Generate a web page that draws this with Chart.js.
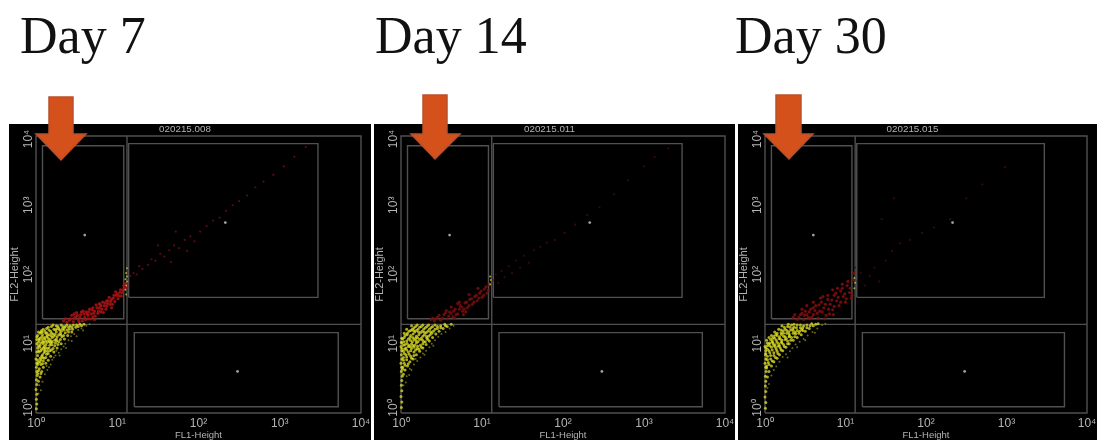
<!DOCTYPE html>
<html>
<head>
<meta charset="utf-8">
<script src="https://cdn.jsdelivr.net/npm/chart.js@4"></script>
<style>
  html, body { margin: 0; padding: 0; background: #fff; overflow: hidden; }
  body { width: 1097px; height: 440px; position: relative; }
  .day { position: absolute; top: 6px; font: 52px/60px "Liberation Serif", serif; color: #111; }
  canvas { position: absolute; top: 124px; background: #000; filter: blur(0.7px); }
  svg { position: absolute; left: 0; top: 0; filter: blur(0.3px); }
</style>
</head>
<body>
<div class="day" style="left:20px">Day 7</div>
<div class="day" style="left:375px">Day 14</div>
<div class="day" style="left:735px">Day 30</div>
<canvas id="day7" width="362" height="316" style="left:9px"></canvas>
<canvas id="day14" width="361" height="316" style="left:374px"></canvas>
<canvas id="day30" width="359" height="316" style="left:738px"></canvas>
<svg width="1097" height="440">
  <g fill="#d4511c" stroke="#b9502c" stroke-width="1.5">
    <polygon points="49,97 73,97 73,134 86,134 61,160 36,134 49,134"/>
    <polygon points="423,95 447,95 447,134 460,134 435,159 411,134 423,134"/>
    <polygon points="776,95 801,95 801,134 813,134 789,159 764,134 776,134"/>
  </g>
</svg>
<script>
// all positions are log10 of the channel height
const xTickLabels = ["10⁰", "10¹", "10²", "10³", "10⁴"];
const yTickLabels = ["10⁰", "10¹", "10²", "10³", "10⁴"];
const xTitle = "FL1-Height";
const yTitle = "FL2-Height";

const plotFrame = [[0, 0], [4, 0], [4, 4], [0, 4], [0, 0]];
const quadrantV = [[1.12, 0], [1.12, 4]];
const quadrantH = [[0, 1.28], [4, 1.28]];
const gateUpperLeft = [[0.08, 1.36], [1.08, 1.36], [1.08, 3.86], [0.08, 3.86], [0.08, 1.36]];
const gateUpperRight = [[1.14, 1.67], [3.47, 1.67], [3.47, 3.89], [1.14, 3.89], [1.14, 1.67]];
const gateLowerRight = [[1.21, 0.09], [3.72, 0.09], [3.72, 1.16], [1.21, 1.16], [1.21, 0.09]];
const gateCentres = [[0.6, 2.57], [2.33, 2.75], [2.48, 0.6]];

const day7Yellow = [[.005,.06],[.01,.13],[.005,.2],[.01,.27],[0,.34],[.01,.41],[.005,.48],[.015,.54],[.01,.6],[.005,.66],[.01,.72],[0,.78],
  [.03,.46],[.05,.52],[.02,.57],[.07,.6],[.04,.64],[.09,.66],[.06,.7],[.12,.72],[.03,.73],[.15,.76],[.09,.75],[.05,.79],[.18,.82],[.12,.8],[.02,.83],[.08,.84],
  [.22,.88],[.15,.86],[.04,.88],[.11,.89],[.26,.94],[.19,.91],[.07,.92],[.14,.93],[.02,.94],[.31,1],[.23,.97],[.1,.96],[.17,.98],[.05,.98],[.28,1.03],[.35,1.07],
  [.2,1.02],[.13,1.01],[.03,1.02],[.08,1.03],[.25,1.07],[.39,1.12],[.32,1.1],[.17,1.06],[.11,1.07],[.05,1.08],[.01,1.06],[.22,1.11],[.28,1.13],[.44,1.17],[.36,1.16],
  [.14,1.12],[.08,1.13],[.02,1.12],[.19,1.15],[.25,1.17],[.31,1.18],[.41,1.21],[.49,1.24],[.11,1.18],[.16,1.2],[.22,1.21],[.28,1.22],[.35,1.23],[.46,1.27],[.54,1.28],
  [.59,1.28],[.19,1.25],[.25,1.26],[.31,1.27],[.38,1.27],[.42,1.26],[.15,1.24],[.09,1.21],[.05,1.15],[.03,1.17],
  [.07,.82],[.13,.85],[.02,.7],[.06,.77],[.1,.79],[.17,.9],[.21,.93],[.09,.94],[.03,.97],[.12,.98],[.16,.94],[.24,1.01],[.27,.99],[.06,1.01],[.15,1.04],[.19,1.04],
  [.1,1.09],[.13,1.1],[.01,1.1],[.07,1.1],[.23,1.05],[.3,1.06],[.34,1.12],[.26,1.1],[.21,1.14],[.16,1.13],[.06,1.17],[.12,1.15],[.24,1.2],[.18,1.18],[.3,1.15],[.34,1.2],
  [.4,1.17],[.38,1.2],[.45,1.21],[.5,1.27],[.44,1.24],[.33,1.25],[.27,1.25],[.21,1.27],[.13,1.22],[.07,1.19],[.36,1.25],[.56,1.26],[.52,1.25],[.4,1.24],[.29,1.2],[.2,1.09],
  [.15,1.08],[.08,1.06],[.04,1.05],[.18,1.01],[.12,1.04],[.09,1],[.01,1],[.03,.9],[.06,.9],[.1,.87],[.14,.89],[.01,.88],[.08,.8],[.05,.74],[.02,.76],[.08,.71],[.03,.61],[.06,.57],
  [.115,.94],[.045,.95],[.195,.985],[.255,1.045],[.165,1.025],[.095,1.025],[.035,1.07],[.305,1.125],[.235,1.135],[.135,1.155],[.075,1.165],[.185,1.115],[.325,1.215],[.255,1.215],[.105,.915]];
const day7Dim = [[.08,.45],[.11,.56],[.04,.4],[.14,.62],[.18,.7],[.13,.68],[.2,.77],[.24,.83],[.28,.87],[.31,.92],[.25,.9],[.36,1],[.34,.96],[.4,1.05],[.43,1.11],[.47,1.14],[.52,1.2],
  [.56,1.22],[.62,1.26],[.66,1.28],[.06,.33],[.03,.28],[.16,.66],[.22,.8],[.29,.83],[.37,.94],[.44,1.04],[.5,1.11],[.58,1.19]];
const day7Red = [[.34,1.33],[.38,1.31],[.42,1.36],[.46,1.32],[.49,1.39],[.52,1.35],[.55,1.42],[.57,1.33],[.6,1.38],[.62,1.46],[.64,1.41],[.67,1.36],[.69,1.49],[.71,1.44],
  [.73,1.4],[.75,1.52],[.77,1.47],[.79,1.56],[.81,1.5],[.83,1.45],[.85,1.59],[.87,1.54],[.89,1.62],[.91,1.57],[.93,1.52],[.95,1.66],[.97,1.61],[.99,1.7],[1.01,1.65],
  [1.03,1.74],[1.05,1.69],[1.07,1.78],[1.09,1.8],[.5,1.45],[.44,1.41],[.66,1.5],[.58,1.47],[.74,1.56],[.82,1.6],[.9,1.67],[.98,1.75],[.72,1.35],
  [.36,1.36],[.41,1.34],[.47,1.37],[.51,1.41],[.54,1.38],[.59,1.43],[.61,1.35],[.63,1.43],[.65,1.46],[.68,1.43],[.7,1.39],[.72,1.47],[.76,1.44],[.78,1.52],[.8,1.46],[.84,1.55],
  [.86,1.5],[.88,1.58],[.92,1.61],[.94,1.57],[.96,1.7],[1,1.72],[1.02,1.69],[1.04,1.78],[1.06,1.74],[1.08,1.84],[.78,1.58],[.7,1.52],[.53,1.32],[.64,1.36],[.56,1.46],[.47,1.43],
  [.93,1.64],[.87,1.62],[.8,1.55],[1.1,1.87],[1.12,1.82]];
const day7Sparse = [[1.16,1.98],[1.2,2.02],[1.24,2],[1.27,2.12],[1.31,2.08],[1.38,2.14],[1.42,2.22],[1.47,2.2],[1.53,2.3],[1.58,2.26],[1.64,2.35],[1.7,2.42],[1.76,2.38],
  [1.83,2.5],[1.9,2.55],[1.95,2.48],[2.02,2.62],[2.1,2.7],[2.18,2.78],[2.26,2.82],[2.34,2.92],[2.42,3],[2.5,3.06],[2.6,3.14],[2.7,3.26],[2.8,3.34],[2.92,3.44],[3.05,3.56],
  [3.18,3.7],[3.32,3.84],[1.5,2.42],[1.72,2.62],[1.66,2.18],[1.86,2.34]];
const day7Streak = [[1.1,1.78],[1.11,1.84],[1.12,1.9],[1.1,1.93],[1.12,1.97],[1.11,2.02],[1.12,2.09],[1.11,1.71]];

const day14Yellow = [[.005,.08],[.01,.16],[0,.24],[.01,.32],[.005,.4],[.01,.47],[.015,.53],[.005,.6],[.01,.66],[0,.72],[.01,.78],[.005,.84],[.01,.9],[0,.96],[.005,1.02],[.01,1.08],
  [.03,.56],[.05,.62],[.02,.66],[.08,.68],[.04,.72],[.11,.74],[.07,.77],[.15,.78],[.03,.8],[.19,.84],[.12,.82],[.06,.84],[.23,.89],[.16,.88],[.09,.88],[.03,.89],[.27,.94],
  [.2,.93],[.13,.93],[.06,.94],[.31,.99],[.24,.98],[.17,.98],[.1,.98],[.03,.98],[.35,1.04],[.28,1.03],[.21,1.03],[.14,1.03],[.07,1.04],[.39,1.09],[.32,1.08],[.25,1.08],
  [.18,1.08],[.11,1.09],[.04,1.09],[.43,1.14],[.36,1.13],[.29,1.13],[.22,1.13],[.15,1.14],[.08,1.15],[.47,1.18],[.4,1.18],[.33,1.18],[.26,1.18],[.19,1.19],[.12,1.19],
  [.52,1.22],[.45,1.22],[.37,1.23],[.3,1.23],[.23,1.24],[.16,1.23],[.57,1.25],[.49,1.26],[.42,1.27],[.34,1.27],[.27,1.27],[.2,1.27],[.62,1.28],[.54,1.28],
  [.02,.63],[.05,.69],[.09,.71],[.03,.76],[.07,.81],[.13,.79],[.16,.83],[.1,.85],[.04,.86],[.01,.93],[.07,.91],[.12,.9],[.18,.91],[.22,.92],[.25,.95],[.16,.95],[.09,.96],[.05,.99],
  [.01,1.01],[.13,1],[.19,1.01],[.27,1],[.3,1.03],[.33,1.06],[.23,1.06],[.16,1.06],[.09,1.07],[.02,1.07],[.05,1.12],[.12,1.12],[.19,1.11],[.27,1.11],[.34,1.11],[.38,1.15],[.31,1.16],
  [.24,1.16],[.17,1.17],[.1,1.18],[.04,1.15],[.07,1.21],[.14,1.21],[.21,1.21],[.28,1.21],[.35,1.21],[.42,1.21],[.49,1.23],[.55,1.26],[.45,1.25],[.39,1.25],[.32,1.25],[.25,1.25],[.18,1.25],[.13,1.26],
  [.115,.955],[.045,.925],[.205,.965],[.145,.975],[.075,1.005],[.265,1.055],[.185,1.045],[.115,1.05],[.035,1.03],[.315,1.105],[.205,1.085],[.145,1.09],[.075,1.13],[.365,1.175],[.285,1.165],[.215,1.17],[.155,1.19]];
const day14Dim = [[.06,.44],[.03,.4],[.1,.55],[.13,.62],[.16,.7],[.2,.75],[.24,.8],[.27,.86],[.31,.9],[.35,.95],[.38,1],[.42,1.05],[.46,1.1],[.5,1.14],[.55,1.17],[.6,1.22],[.65,1.26],
  [.07,.53],[.11,.64],[.18,.78],[.29,.84],[.4,.97]];
const day14Red = [[.37,1.35],[.41,1.33],[.45,1.38],[.49,1.34],[.53,1.42],[.57,1.36],[.6,1.46],[.64,1.39],[.67,1.5],[.7,1.43],[.73,1.55],[.76,1.47],[.79,1.59],[.82,1.52],
  [.85,1.64],[.88,1.57],[.91,1.68],[.94,1.62],[.97,1.73],[1,1.67],[1.03,1.79],[1.06,1.73],[1.09,1.85],[.56,1.48],[.62,1.53],[.72,1.6],[.84,1.71],[.95,1.8],[.66,1.37],[.8,1.46],
  [.39,1.37],[.43,1.36],[.47,1.41],[.51,1.37],[.55,1.45],[.59,1.4],[.62,1.44],[.65,1.47],[.68,1.42],[.72,1.5],[.75,1.53],[.78,1.5],[.81,1.6],[.84,1.55],[.87,1.65],[.9,1.6],[.93,1.7],
  [.96,1.66],[.99,1.76],[1.02,1.7],[1.05,1.82],[1.08,1.77],[.7,1.58],[.77,1.42]];
const day14Sparse = [[1.13,1.92],[1.17,2],[1.2,1.88],[1.24,2.05],[1.28,1.96],[1.33,2.12],[1.37,2.02],[1.42,2.2],[1.47,2.1],[1.52,2.27],[1.58,2.17],[1.64,2.35],[1.72,2.4],[1.8,2.46],
  [1.9,2.5],[2.02,2.6],[2.15,2.72],[2.3,2.86],[2.45,2.97],[2.63,3.16],[2.8,3.36],[3,3.56],[3.13,3.7],[3.3,3.82]];
const day14Streak = [[1.1,1.86],[1.11,1.92],[1.1,1.97]];

const day30Yellow = [[.005,.07],[.01,.15],[0,.23],[.01,.31],[.005,.39],[.01,.46],[.005,.53],[.015,.6],[.01,.66],[0,.72],[.01,.78],[.005,.84],[.01,.9],[0,.96],
  [.03,.52],[.05,.6],[.02,.65],[.08,.68],[.04,.73],[.11,.74],[.07,.78],[.15,.79],[.03,.82],[.18,.84],[.11,.83],[.06,.87],[.22,.9],[.15,.89],[.09,.91],[.03,.92],[.26,.95],
  [.19,.94],[.13,.95],[.06,.97],[.3,1],[.23,.99],[.17,1],[.1,1],[.03,1.01],[.35,1.05],[.28,1.04],[.21,1.05],[.14,1.05],[.07,1.06],[.4,1.09],[.33,1.09],[.25,1.1],
  [.18,1.1],[.11,1.11],[.45,1.13],[.38,1.14],[.3,1.14],[.23,1.15],[.15,1.15],[.08,1.12],[.5,1.18],[.43,1.18],[.35,1.19],[.27,1.19],[.2,1.2],[.55,1.22],[.47,1.23],
  [.39,1.23],[.31,1.24],[.24,1.24],[.6,1.26],[.52,1.27],[.44,1.27],[.36,1.28],[.29,1.28],[.66,1.29],[.58,1.29],
  [.02,.68],[.05,.7],[.09,.75],[.03,.77],[.13,.8],[.07,.83],[.01,.86],[.16,.86],[.11,.87],[.05,.9],[.01,.94],[.2,.91],[.14,.92],[.08,.95],[.03,.97],[.24,.96],[.18,.97],[.11,.97],
  [.06,1.01],[.28,1],[.21,1.01],[.15,1.02],[.09,1.04],[.02,1.05],[.32,1.05],[.25,1.06],[.19,1.07],[.12,1.08],[.05,1.09],[.37,1.1],[.3,1.1],[.23,1.11],[.15,1.12],[.42,1.15],[.35,1.15],
  [.27,1.15],[.2,1.16],[.12,1.17],[.47,1.19],[.4,1.19],[.32,1.2],[.25,1.21],[.17,1.21],[.52,1.23],[.44,1.23],[.36,1.24],[.28,1.25],[.21,1.26],[.56,1.26],[.48,1.26],[.4,1.27],[.33,1.27],[.63,1.28],
  [.125,.985],[.045,.995],[.205,1.025],[.165,.965],[.095,1.02],[.265,1.075],[.175,1.075],[.095,1.08],[.305,1.115],[.205,1.135],[.135,1.135],[.375,1.165],[.295,1.175],[.225,1.185],[.455,1.205],[.345,1.215]];
const day30Dim = [[.05,.42],[.03,.36],[.08,.54],[.11,.62],[.14,.67],[.18,.74],[.22,.81],[.26,.85],[.31,.89],[.34,.94],[.38,.99],[.43,1.03],[.48,1.07],[.53,1.12],[.59,1.17],[.65,1.22],[.71,1.27],
  [.75,1.29],[.28,.8],[.4,.95],[.5,1.05],[.62,1.16]];
const day30Red = [[.35,1.38],[.4,1.35],[.44,1.42],[.48,1.35],[.5,1.47],[.54,1.38],[.57,1.5],[.6,1.42],[.63,1.55],[.66,1.37],[.68,1.47],[.7,1.6],[.73,1.52],[.76,1.41],[.78,1.64],
  [.81,1.57],[.84,1.49],[.86,1.7],[.89,1.62],[.92,1.55],[.94,1.76],[.97,1.68],[1,1.6],[1.02,1.84],[1.05,1.74],[1.07,1.66],[1.09,1.92],[1.1,2.02],[.52,1.55],[.6,1.6],
  [.72,1.68],[.84,1.78],[.96,1.86],[.46,1.5],[.56,1.36],[.74,1.36],
  [.37,1.42],[.42,1.38],[.46,1.44],[.52,1.42],[.55,1.46],[.58,1.38],[.62,1.48],[.65,1.44],[.67,1.56],[.71,1.46],[.75,1.57],[.79,1.5],[.8,1.43],[.83,1.63],[.86,1.54],[.88,1.73],[.91,1.67],
  [.94,1.6],[.96,1.8],[.99,1.72],[1.01,1.65],[1.03,1.9],[1.06,1.8],[1.08,1.7],[.6,1.52],[.69,1.66],[.78,1.7],[.9,1.8],[.49,1.41],[.85,1.42]];
const day30Sparse = [[1.12,2.1],[1.15,1.9],[1.19,2.02],[1.24,1.84],[1.3,1.98],[1.36,2.1],[1.42,1.9],[1.5,2.2],[1.58,2.34],[1.68,2.45],[1.8,2.5],[1.95,2.6],[2.1,2.68],[2.3,2.8],
  [2.5,3.1],[2.7,3.3],[2.98,3.55],[1.6,3.1],[1.45,2.8]];
const day30Streak = [[1.11,1.8],[1.12,1.88],[1.11,1.95]];

const lineSet = (points) => ({
  data: points.map(([x, y]) => ({ x, y })),
  showLine: true,
  borderColor: "#505050",
  borderWidth: 1.4,
  pointRadius: 0,
  clip: false,
});

const dotSet = (points, color, radius) => ({
  data: points.map(([x, y]) => ({ x, y })),
  backgroundColor: color,
  pointRadius: radius,
  pointBorderWidth: 0,
  clip: false,
});

// y tick labels stand on their side in the original, the scale can't do that
const rotatedYTicks = {
  id: "rotatedYTicks",
  afterDraw(chart) {
    const { ctx, scales } = chart;
    ctx.save();
    ctx.font = '12px "Liberation Sans"';
    ctx.fillStyle = "#b4b4b4";
    ctx.textAlign = "center";
    ctx.textBaseline = "middle";
    yTickLabels.forEach((label, i) => {
      ctx.save();
      ctx.translate(scales.x.left - 7, scales.y.getPixelForValue(i) - (i === 0 ? 5 : i === 4 ? -3 : 0));
      ctx.rotate(-Math.PI / 2);
      ctx.fillText(label, 0, 0);
      ctx.restore();
    });
    ctx.restore();
  },
};

function createPlot(id, title, yellow, dim, red, sparse, streak, redColor, sparseColor) {
  new Chart(document.getElementById(id), {
    type: "scatter",
    data: {
      datasets: [
        dotSet(streak, "rgba(190,200,60,0.8)", 1),
        dotSet(gateCentres, "#a0a0a0", 1.4),
        dotSet(yellow, "rgba(226,226,40,0.75)", 1.5),
        dotSet(dim, "rgba(130,130,25,0.8)", 1),
        dotSet(red, redColor, 1.6),
        dotSet(sparse, sparseColor, 1.1),
        lineSet(gateUpperLeft),
        lineSet(gateUpperRight),
        lineSet(gateLowerRight),
        lineSet(quadrantV),
        lineSet(quadrantH),
        lineSet(plotFrame),
      ],
    },
    options: {
      responsive: false,
      animation: false,
      layout: { padding: { right: 10 } },
      plugins: {
        legend: { display: false },
        tooltip: { enabled: false },
        title: {
          display: true,
          text: title,
          color: "#b4b4b4",
          font: { family: "Liberation Sans", size: 9.8, weight: "normal", lineHeight: 1 },
          padding: { top: 0, bottom: 2.2 },
        },
      },
      scales: {
        x: {
          type: "linear",
          min: 0,
          max: 4,
          afterFit(scale) {
            scale.height = 27;
            scale.paddingLeft = 0;
            scale.paddingRight = 0;
          },
          grid: { display: false, drawTicks: false },
          border: { display: false },
          ticks: {
            stepSize: 1,
            autoSkip: false,
            maxRotation: 0,
            padding: 3,
            color: "#b4b4b4",
            font: { family: "Liberation Sans", size: 12 },
            callback: (value) => xTickLabels[value],
          },
          title: {
            display: true,
            text: xTitle,
            color: "#b4b4b4",
            font: { family: "Liberation Sans", size: 9.5, lineHeight: 1 },
            padding: { top: 0, bottom: 0 },
          },
        },
        y: {
          type: "linear",
          min: 0,
          max: 4,
          afterFit(scale) {
            scale.width = 27;
          },
          grid: { display: false },
          border: { display: false },
          ticks: { display: false, stepSize: 1 },
          title: {
            display: true,
            text: yTitle,
            color: "#b4b4b4",
            font: { family: "Liberation Sans", size: 11, lineHeight: 1 },
            padding: { top: 0, bottom: 0 },
          },
        },
      },
    },
    plugins: [rotatedYTicks],
  });
}

createPlot("day7", "020215.008", day7Yellow, day7Dim, day7Red, day7Sparse, day7Streak, "rgba(165,18,18,0.9)", "rgba(105,14,24,0.85)");
createPlot("day14", "020215.011", day14Yellow, day14Dim, day14Red, day14Sparse, day14Streak, "rgba(120,14,14,0.85)", "rgba(70,10,16,0.8)");
createPlot("day30", "020215.015", day30Yellow, day30Dim, day30Red, day30Sparse, day30Streak, "rgba(130,14,14,0.85)", "rgba(70,10,16,0.8)");
</script>
</body>
</html>
